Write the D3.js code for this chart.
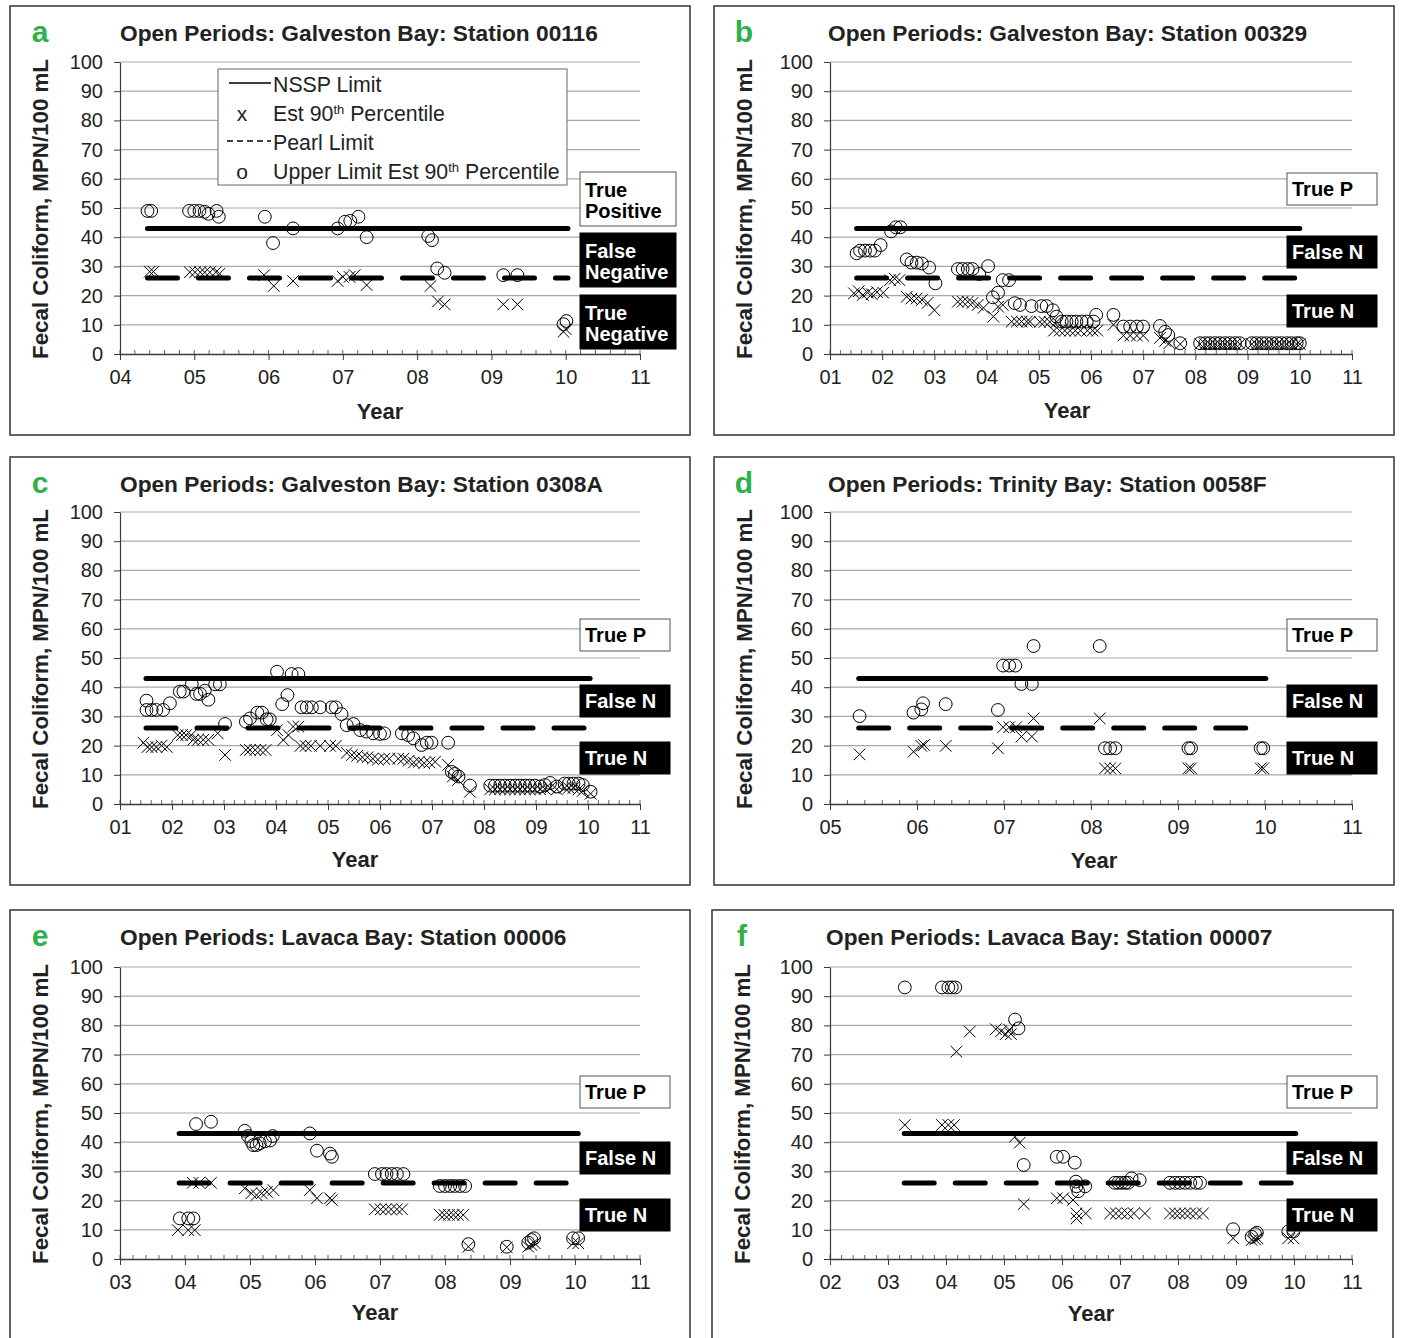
<!DOCTYPE html>
<html>
<head>
<meta charset="utf-8">
<script src="https://cdn.jsdelivr.net/npm/d3@7"></script>
<style>
  body { margin: 0; background: #fff; }
  text { font-family: "Liberation Sans", Arial, sans-serif; }
</style>
</head>
<body>
<script>
// Limits (MPN/100 mL)
var nsspLimit = 43;
var pearlLimit = 26;

var titles = [
  "Open Periods: Galveston Bay: Station 00116",
  "Open Periods: Galveston Bay: Station 00329",
  "Open Periods: Galveston Bay: Station 0308A",
  "Open Periods: Trinity Bay: Station 0058F",
  "Open Periods: Lavaca Bay: Station 00006",
  "Open Periods: Lavaca Bay: Station 00007"
];

var yTicks = [0, 10, 20, 30, 40, 50, 60, 70, 80, 90, 100];

// year span of the limit lines per panel
var aSpan = [4.37, 10.03];
var bSpan = [1.51, 10.0];
var cSpan = [1.5, 10.04];
var dSpan = [5.33, 10.01];
var eSpan = [3.91, 10.05];
var fSpan = [3.28, 10.03];

// [year, value]  o = upper limit est 90th, x = est 90th percentile
var aUpper = [[4.37,49],[4.42,49],[4.93,49],[5.00,49],[5.07,49],[5.14,48.7],[5.19,48],[5.30,49],[5.33,47],
  [5.95,47],[6.06,38],[6.33,43],[6.93,43],[7.03,45.3],[7.10,45.6],[7.21,47],[7.32,40],[8.15,40.4],[8.20,39],
  [8.27,29.3],[8.37,27.8],[9.16,27],[9.35,27],[9.97,10.2],[10.01,11.3]];
var aEst = [[4.40,28.2],[4.45,28.2],[4.94,28],[5.01,28],[5.08,28],[5.14,28],[5.21,28],[5.29,28],[5.34,27.5],
  [5.94,27],[6.07,23.3],[6.33,25],[6.93,25],[7.00,26.4],[7.09,26.4],[7.16,27],[7.32,23.6],[8.18,23.3],
  [8.28,18],[8.37,17],[9.16,17],[9.35,17],[9.97,7.6],[10.0,8.5]];

var bUpper = [[1.51,34.5],[1.575,35.4],[1.67,35.4],[1.77,35.4],[1.86,35.4],[1.97,37.3],[2.17,42],[2.26,43.4],[2.35,43.4],
  [2.47,32.4],[2.56,31.3],[2.66,31.3],[2.76,31],[2.90,29.6],[3.02,24.2],[3.45,29.1],[3.54,29.1],[3.64,29.1],[3.73,29.1],
  [3.86,27.4],[4.03,30.1],[4.12,19.4],[4.22,21],[4.31,25.3],[4.43,25.3],[4.54,17.4],[4.64,16.8],[4.86,16.4],[5.05,16.4],
  [5.15,16.4],[5.27,15],[5.34,12.8],[5.44,11.1],[5.53,11.1],[5.63,11.1],[5.72,11.1],[5.82,11.1],[5.92,11.1],[6.05,11.1],
  [6.10,13.4],[6.43,13.4],[6.62,9.4],[6.75,9.4],[6.88,9.4],[7.00,9.4],[7.32,9.6],[7.42,7.6],[7.48,6.5],[7.71,3.7],
  [8.09,3.7],[8.19,3.7],[8.28,3.7],[8.38,3.7],[8.47,3.7],[8.57,3.7],[8.66,3.7],[8.76,3.7],[8.85,3.7],
  [9.08,3.7],[9.17,3.7],[9.27,3.7],[9.36,3.7],[9.46,3.7],[9.56,3.7],[9.65,3.7],[9.75,3.7],[9.84,3.7],[9.94,3.7],[10.0,3.7]];
var bEst = [[1.46,20.8],[1.55,21.5],[1.63,20.2],[1.72,21],[1.80,20.5],[1.90,21.2],[2.02,21],[2.15,25.3],[2.24,25.8],[2.33,25.3],
  [2.47,19.6],[2.56,19],[2.66,19],[2.76,18.5],[2.87,17.5],[3.00,15],[3.45,17.9],[3.54,17.9],[3.64,17.9],[3.73,17.5],
  [3.83,16.8],[3.94,15.8],[4.13,12.8],[4.22,16.2],[4.31,16.8],[4.48,11.1],[4.58,11.1],[4.67,11.1],[4.77,11.1],[4.83,11.1],
  [5.02,11],[5.11,11],[5.21,11],[5.34,11],[5.29,8],[5.40,8],[5.50,8],[5.60,8],[5.70,8],[5.80,8],[5.93,8],[6.03,8],[6.12,8],
  [6.43,10],[6.62,6.3],[6.75,6.3],[6.88,6.3],[7.00,6.3],[7.32,5.5],[7.42,4.5],[7.50,3.7],[7.71,3.4],
  [8.09,3.4],[8.19,3.4],[8.28,3.4],[8.38,3.4],[8.47,3.4],[8.57,3.4],[8.66,3.4],[8.76,3.4],[8.85,3.4],
  [9.08,3.4],[9.17,3.4],[9.27,3.4],[9.36,3.4],[9.46,3.4],[9.56,3.4],[9.65,3.4],[9.75,3.4],[9.84,3.4],[9.94,3.4],[10.0,3.4]];

var cUpper = [[1.51,35.4],[1.51,32.2],[1.61,32.2],[1.70,32.2],[1.83,32.2],[1.96,34.5],[2.15,38.5],[2.22,38.5],[2.38,41],
  [2.47,37.7],[2.54,37.7],[2.63,38.8],[2.70,35.7],[2.83,41],[2.92,41],[3.02,27.4],[3.42,28.2],[3.50,29.3],[3.64,31.3],
  [3.73,31.3],[3.82,29],[3.88,29],[4.02,45.3],[4.12,34.2],[4.22,37.3],[4.30,44.5],[4.43,44.5],[4.49,33.1],[4.59,33.1],
  [4.69,33.1],[4.85,33.1],[5.07,33.1],[5.15,33.1],[5.26,30.8],[5.36,27],[5.49,27.4],[5.62,25.3],[5.74,24.8],[5.87,24.2],
  [6.0,24],[6.08,24.2],[6.42,24.2],[6.54,23.6],[6.64,22.5],[6.80,20.2],[6.90,21],[6.99,21],[7.31,21],[7.38,11],[7.44,10.3],
  [7.51,9.4],[7.73,6.3],[8.12,6.3],[8.21,6.3],[8.31,6.3],[8.40,6.3],[8.50,6.3],[8.60,6.3],[8.69,6.3],[8.79,6.3],[8.88,6.3],
  [8.98,6.3],[9.08,6],[9.17,6.5],[9.27,7.2],[9.40,6],[9.55,7],[9.63,7],[9.72,7],[9.82,7],[9.90,6.5],[10.05,4.2]];
var cEst = [[1.45,21],[1.53,19.5],[1.61,19.5],[1.70,19.5],[1.80,20],[1.90,19.5],[2.11,23.6],[2.19,23.6],[2.27,23.6],[2.37,23.6],
  [2.41,22],[2.50,22],[2.60,22],[2.70,22],[2.88,24.2],[3.02,16.8],[3.42,18.5],[3.50,18.5],[3.60,18.5],[3.70,18.5],[3.80,18.5],
  [4.02,25.3],[4.14,21.9],[4.24,23.6],[4.33,26.5],[4.43,26.5],[4.47,19.9],[4.57,19.9],[4.67,19.9],[4.85,19.9],[5.04,19.9],
  [5.15,19.9],[5.36,17.5],[5.46,16.8],[5.56,16.5],[5.66,16],[5.76,16],[5.86,15.5],[5.96,15.2],[6.08,15.5],[6.18,15.5],
  [6.35,15.5],[6.45,15.5],[6.55,14.8],[6.65,14.2],[6.75,14.5],[6.85,14],[6.95,14.2],[7.06,14.5],[7.31,13.4],[7.40,9.4],
  [7.50,8.2],[7.73,4.2],[8.12,5],[8.21,5],[8.31,5],[8.40,5],[8.50,5],[8.60,5],[8.69,5],[8.79,5],[8.88,5],[8.98,5],
  [9.08,5],[9.17,5.2],[9.27,5.5],[9.40,5],[9.55,5.5],[9.63,5.5],[9.72,5.5],[9.82,5],[9.90,4.5],[10.05,3.5]];

var dUpper = [[5.34,30.1],[5.96,31.3],[6.05,32.4],[6.07,34.5],[6.33,34.2],[6.93,32.2],[6.99,47.4],[7.06,47.4],[7.13,47.4],
  [7.20,41.1],[7.32,41.1],[7.34,54.1],[8.10,54.1],[8.16,19.1],[8.22,19.1],[8.28,19.1],[9.12,19.1],[9.15,19.1],[9.95,19.1],[9.98,19.1]];
var dEst = [[5.34,17],[5.96,17.9],[6.05,19.9],[6.08,20.2],[6.33,19.9],[6.93,19.1],[6.99,26.3],[7.06,26.3],[7.14,26.3],
  [7.20,23.1],[7.32,23.1],[7.34,29.3],[8.10,29.3],[8.16,12.2],[8.22,12.2],[8.28,12.2],[9.12,12.2],[9.15,12.2],[9.95,12.2],[9.98,12.2]];

var eUpper = [[3.92,13.9],[4.05,13.9],[4.13,13.9],[4.17,46.2],[4.40,47],[4.92,43.9],[4.97,42.1],[5.02,40.3],[5.05,39],[5.10,39],
  [5.15,39.6],[5.23,40.3],[5.31,40.6],[5.35,42.1],[5.92,43],[6.03,37.1],[6.23,36.1],[6.26,35],[6.92,29.1],[7.03,29.1],[7.10,29.1],
  [7.18,29.1],[7.26,29.1],[7.36,29.1],[7.92,25],[8.0,25],[8.08,25],[8.15,25],[8.23,25],[8.31,25],[8.36,5.1],[8.95,4.2],
  [9.28,5.6],[9.33,6.5],[9.37,7.1],[9.97,7.1],[10.05,7.1]];
var eEst = [[3.89,9.9],[4.05,9.9],[4.15,9.9],[4.12,26.1],[4.22,26.1],[4.40,26.1],[4.92,24.2],[5.02,22.5],[5.10,21.9],[5.18,22.5],
  [5.26,23],[5.36,23.6],[5.92,23.6],[6.03,20.8],[6.23,20.8],[6.26,20.2],[6.92,17],[7.01,17],[7.09,17],[7.17,17],[7.26,17],
  [7.34,17],[7.92,15.1],[7.99,15.1],[8.06,15.1],[8.13,15.1],[8.20,15.1],[8.28,15.1],[8.36,4.2],[8.95,4],[9.28,4.2],[9.33,4.8],
  [9.38,5.4],[9.97,5.4],[10.05,5.4]];

var fUpper = [[3.29,93],[3.93,93],[4.04,93],[4.10,93],[4.16,93],[5.19,82],[5.25,79],[5.34,32.2],[5.91,35],[6.02,35],[6.22,33],
  [6.24,26.5],[6.25,24.9],[6.28,23.2],[6.40,24.9],[6.91,26.1],[6.97,26.1],[7.03,26.1],[7.09,26.1],[7.14,26.1],[7.20,27.6],[7.34,27],
  [7.86,26.1],[7.95,26.1],[8.03,26.1],[8.12,26.1],[8.21,26.1],[8.31,26.1],[8.38,26.1],[8.95,10.2],[9.27,7.6],[9.33,8.5],
  [9.36,9],[9.90,9.4],[9.99,9.4]];
var fEst = [[3.29,45.9],[3.93,45.9],[4.04,45.9],[4.14,45.9],[4.18,71],[4.41,77.9],[4.86,78.7],[4.95,78],[5.03,77],[5.09,78.5],
  [5.12,77],[5.19,41.9],[5.27,39.8],[5.34,18.8],[5.91,20.8],[6.02,20.8],[6.19,20.2],[6.25,15.6],[6.25,13.9],[6.41,15.6],
  [6.83,15.6],[6.93,15.6],[7.03,15.6],[7.13,15.6],[7.24,15.6],[7.43,15.6],[7.86,15.6],[7.95,15.6],[8.03,15.6],[8.12,15.6],
  [8.21,15.6],[8.31,15.6],[8.43,15.6],[8.95,7.1],[9.27,6.5],[9.33,6.7],[9.37,7.1],[9.90,7.1],[9.99,7.1]];

var longCats = [["True","Positive"], ["False","Negative"], ["True","Negative"]];
var shortCats = [["True P"], ["False N"], ["True N"]];

// layout of each panel (pixel positions)
var panels = [
  {letter:"a", box:[10,6,680,429], plot:[120,62,640,354], xDomain:[4,11], title:titles[0], titleX:120, up:aUpper, est:aEst, span:aSpan,
   xLab:[380,419], cats:longCats, catX:580, catW:96, catY:[172,233,295], catH:54},
  {letter:"b", box:[714,6,680,429], plot:[830,62,1352,354], xDomain:[1,11], title:titles[1], titleX:828, up:bUpper, est:bEst, span:bSpan,
   xLab:[1067,418], cats:shortCats, catX:1287, catW:90, catY:[173,236,295], catH:32},
  {letter:"c", box:[10,457,680,428], plot:[120,512,640,804], xDomain:[1,11], title:titles[2], titleX:120, up:cUpper, est:cEst, span:cSpan,
   xLab:[355,867], cats:shortCats, catX:580, catW:90, catY:[619,685,742], catH:32},
  {letter:"d", box:[714,457,680,428], plot:[830,512,1352,804], xDomain:[5,11], title:titles[3], titleX:828, up:dUpper, est:dEst, span:dSpan,
   xLab:[1094,868], cats:shortCats, catX:1287, catW:90, catY:[619,685,742], catH:32},
  {letter:"e", box:[10,910,680,430], plot:[120,967,640,1259], xDomain:[3,11], title:titles[4], titleX:120, up:eUpper, est:eEst, span:eSpan,
   xLab:[375,1320], cats:shortCats, catX:580, catW:90, catY:[1076,1142,1199], catH:32},
  {letter:"f", box:[712,910,681,430], plot:[830,967,1352,1259], xDomain:[2,11], title:titles[5], titleX:826, up:fUpper, est:fEst, span:fSpan,
   xLab:[1091,1321], cats:shortCats, catX:1287, catW:90, catY:[1076,1142,1199], catH:32}
];

var svg = d3.select("body").append("svg")
  .attr("width", 1401)
  .attr("height", 1338);

var axisColor = "#3a3a3a";
var gridColor = "#a8a8a8";

function xMark(g, x, y, s) {
  g.append("path")
    .attr("d", "M"+(x-s)+","+(y-s)+"L"+(x+s)+","+(y+s)+"M"+(x-s)+","+(y+s)+"L"+(x+s)+","+(y-s))
    .attr("stroke", "#000").attr("stroke-width", 1).attr("fill", "none");
}

panels.forEach(function(p) {
  var g = svg.append("g");
  var L = p.plot[0], T = p.plot[1], R = p.plot[2], B = p.plot[3];

  //outer frame
  g.append("rect")
    .attr("x", p.box[0]).attr("y", p.box[1])
    .attr("width", p.box[2]).attr("height", p.box[3])
    .attr("fill", "none").attr("stroke", "#333").attr("stroke-width", 1.5);

  var x = d3.scaleLinear().domain(p.xDomain).range([L, R]);
  var y = d3.scaleLinear().domain([0, 100]).range([B, T]);

  //gridlines
  g.selectAll("line.grid")
    .data(yTicks.slice(1))
    .enter().append("line")
    .attr("class", "grid")
    .attr("x1", L).attr("x2", R)
    .attr("y1", function(d){ return y(d); })
    .attr("y2", function(d){ return y(d); })
    .attr("stroke", gridColor).attr("stroke-width", 1.2);

  //limit lines
  g.append("line")
    .attr("x1", x(p.span[0])).attr("x2", x(p.span[1]))
    .attr("y1", y(nsspLimit)).attr("y2", y(nsspLimit))
    .attr("stroke", "#000").attr("stroke-width", 5).attr("stroke-linecap", "round");
  g.append("line")
    .attr("x1", x(p.span[0])).attr("x2", x(p.span[1]))
    .attr("y1", y(pearlLimit)).attr("y2", y(pearlLimit))
    .attr("stroke", "#000").attr("stroke-width", 5).attr("stroke-linecap", "round")
    .attr("stroke-dasharray", "30 21");

  //markers
  g.selectAll("circle.up")
    .data(p.up)
    .enter().append("circle")
    .attr("class", "up")
    .attr("cx", function(d){ return x(d[0]); })
    .attr("cy", function(d){ return y(d[1]); })
    .attr("r", 6.4)
    .attr("fill", "none").attr("stroke", "#000").attr("stroke-width", 1);
  p.est.forEach(function(d){ xMark(g, x(d[0]), y(d[1]), 5.8); });

  //y axis
  var yAxis = g.append("g")
    .attr("transform", "translate(" + L + ",0)")
    .call(d3.axisLeft(y).tickValues(yTicks).tickSize(6).tickPadding(11).tickSizeOuter(0));
  yAxis.select(".domain").attr("stroke", axisColor).attr("stroke-width", 1.2);
  yAxis.selectAll(".tick line").attr("stroke", axisColor);
  yAxis.selectAll("text").attr("font-size", 20).attr("fill", "#222")
    .style("font-family", '"Liberation Sans", Arial, sans-serif');

  //x axis
  var years = d3.range(p.xDomain[0], p.xDomain[1] + 1);
  var minor = d3.range(p.xDomain[0] * 5, p.xDomain[1] * 5 + 1).map(function(d){ return d / 5; });
  g.selectAll("line.minor")
    .data(minor)
    .enter().append("line")
    .attr("class", "minor")
    .attr("x1", function(d){ return x(d); }).attr("x2", function(d){ return x(d); })
    .attr("y1", B - 4).attr("y2", B)
    .attr("stroke", axisColor).attr("stroke-width", 0.8);
  var xAxis = g.append("g")
    .attr("transform", "translate(0," + B + ")")
    .call(d3.axisBottom(x).tickValues(years).tickFormat(d3.format("02d")).tickSize(6).tickPadding(10).tickSizeOuter(0));
  xAxis.select(".domain").attr("stroke", axisColor).attr("stroke-width", 1.4);
  xAxis.selectAll(".tick line").attr("stroke", axisColor);
  xAxis.selectAll("text").attr("font-size", 20).attr("fill", "#222")
    .style("font-family", '"Liberation Sans", Arial, sans-serif');

  //panel letter, title and axis titles
  g.append("text")
    .attr("x", p.box[0] + 30).attr("y", p.box[1] + 36)
    .attr("text-anchor", "middle")
    .attr("font-size", 30).attr("font-weight", "bold").attr("fill", "#2eb04b")
    .text(p.letter);
  g.append("text")
    .attr("x", p.titleX).attr("y", p.box[1] + 35)
    .attr("font-size", 22.7).attr("font-weight", "bold").attr("fill", "#222")
    .text(p.title);
  g.append("text")
    .attr("transform", "translate(" + (p.box[0] + 38) + "," + ((T + B) / 2 + 1) + ") rotate(-90)")
    .attr("text-anchor", "middle")
    .attr("font-size", 22.3).attr("font-weight", "bold").attr("fill", "#222")
    .text("Fecal Coliform, MPN/100 mL");
  g.append("text")
    .attr("x", p.xLab[0]).attr("y", p.xLab[1])
    .attr("text-anchor", "middle")
    .attr("font-size", 22).attr("font-weight", "bold").attr("fill", "#222")
    .text("Year");

  //category boxes
  p.cats.forEach(function(lines, i) {
    var by = p.catY[i];
    var white = (i === 0);
    g.append("rect")
      .attr("x", p.catX).attr("y", by)
      .attr("width", p.catW).attr("height", p.catH)
      .attr("fill", white ? "#fff" : "#000")
      .attr("stroke", white ? "#555" : "#000").attr("stroke-width", 1);
    lines.forEach(function(t, j) {
      g.append("text")
        .attr("x", p.catX + 5)
        .attr("y", lines.length === 1 ? by + 23 : by + 25 + j * 21)
        .attr("font-size", 20).attr("font-weight", "bold")
        .attr("fill", white ? "#000" : "#fff")
        .text(t);
    });
  });
});

//legend (panel a)
var leg = svg.append("g");
leg.append("rect")
  .attr("x", 218).attr("y", 69).attr("width", 349).attr("height", 116)
  .attr("fill", "#fff").attr("stroke", "#666").attr("stroke-width", 1);
leg.append("line").attr("x1", 229).attr("x2", 271).attr("y1", 83).attr("y2", 83)
  .attr("stroke", "#000").attr("stroke-width", 1.5);
leg.append("line").attr("x1", 227).attr("x2", 271).attr("y1", 141).attr("y2", 141)
  .attr("stroke", "#000").attr("stroke-width", 1.5).attr("stroke-dasharray", "6 4");
var legRows = [
  {sym: "", label: "NSSP Limit", sup: null, y: 92},
  {sym: "x", label: "Est 90", sup: "th", rest: " Percentile", y: 121},
  {sym: "", label: "Pearl Limit", sup: null, y: 150},
  {sym: "o", label: "Upper Limit Est 90", sup: "th", rest: " Percentile", y: 179}
];
legRows.forEach(function(r) {
  if (r.sym) {
    leg.append("text").attr("x", 242).attr("y", r.y).attr("text-anchor", "middle")
      .attr("font-size", 21).attr("fill", "#222").text(r.sym);
  }
  var t = leg.append("text").attr("x", 273).attr("y", r.y)
    .attr("font-size", 21.3).attr("fill", "#222");
  t.append("tspan").text(r.label);
  if (r.sup) {
    t.append("tspan").attr("dy", -7).attr("font-size", 13).text(r.sup);
    t.append("tspan").attr("dy", 7).text(r.rest);
  }
});
</script>
</body>
</html>
